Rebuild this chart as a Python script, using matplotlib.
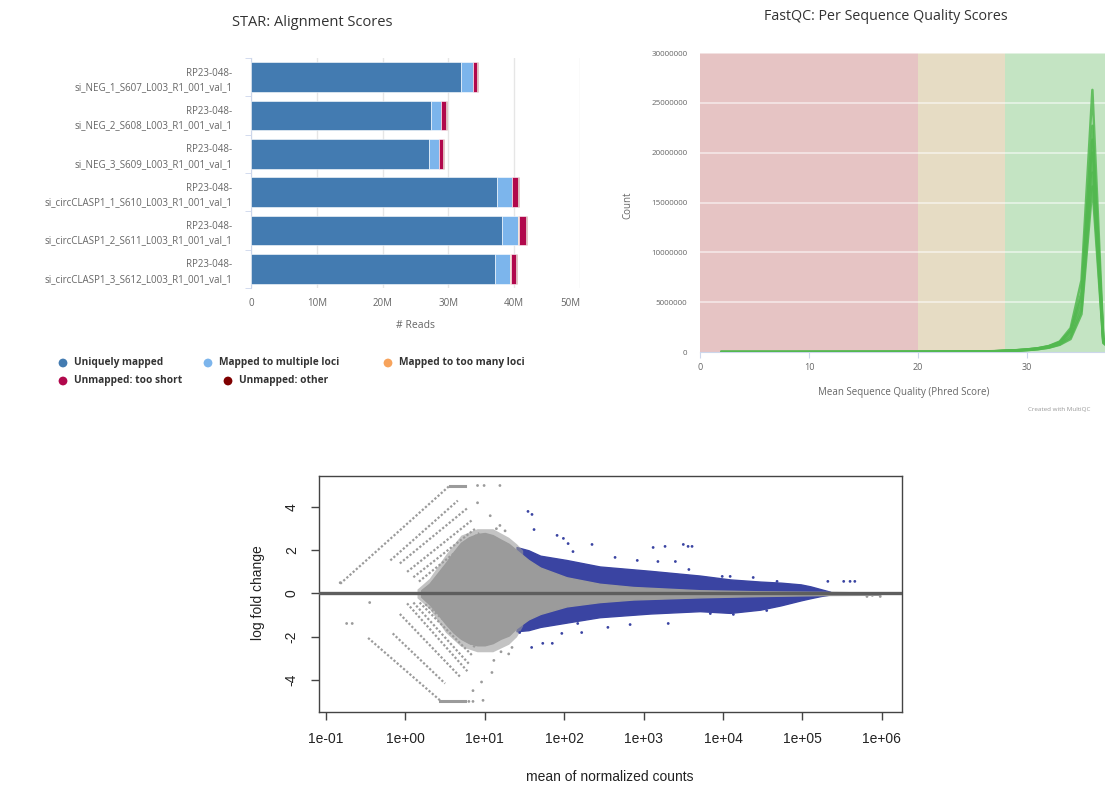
import matplotlib
matplotlib.use("Agg")
import matplotlib.pyplot as plt

plt.rcParams['axes.unicode_minus'] = False

W, H = 1105, 787
HC_FONT = "Open Sans"
R_FONT = "Liberation Sans"

# ---------------- STAR alignment scores (millions of reads) ----------------
star_samples = [
    "RP23-048-\nsi_NEG_1_S607_L003_R1_001_val_1",
    "RP23-048-\nsi_NEG_2_S608_L003_R1_001_val_1",
    "RP23-048-\nsi_NEG_3_S609_L003_R1_001_val_1",
    "RP23-048-\nsi_circCLASP1_1_S610_L003_R1_001_val_1",
    "RP23-048-\nsi_circCLASP1_2_S611_L003_R1_001_val_1",
    "RP23-048-\nsi_circCLASP1_3_S612_L003_R1_001_val_1",
]
star_categories = ["Uniquely mapped", "Mapped to multiple loci",
                   "Mapped to too many loci", "Unmapped: too short",
                   "Unmapped: other"]
uniquely_mapped = [31.9, 27.3, 27.0, 37.4, 38.2, 37.1]
multi_mapped = [1.8, 1.6, 1.6, 2.2, 2.4, 2.3]
too_many_loci = [0.05, 0.04, 0.04, 0.06, 0.06, 0.06]
unmapped_short = [0.6, 0.75, 0.55, 0.85, 1.1, 0.8]
unmapped_other = [0.15, 0.12, 0.12, 0.18, 0.2, 0.17]
star_colors = ["#437bb1", "#7cb5ec", "#f7a35c", "#b1084c", "#7f0000"]
star_xticks = [0, 10, 20, 30, 40, 50]
star_xticklabels = ["0", "10M", "20M", "30M", "40M", "50M"]

# ---------------- FastQC per-sequence quality ----------------
fastqc_quality = list(range(2, 39))
fastqc_neg1 = [240, 650, 1200, 1650, 2100, 2500, 2900, 3300, 3900,
               4500, 5000, 5800, 6600, 7500, 8400, 10000, 11800, 13600, 16000,
               19500, 24000, 29000, 36000, 44000, 55000, 69000,
               110000, 150000, 220000, 320000, 500000, 850000, 1750000,
               4800000, 20000000, 1100000, 0]
fastqc_neg2 = [210, 560, 1050, 1450, 1800, 2200, 2500, 2900, 3400,
               3900, 4400, 5100, 5800, 6600, 7400, 8800, 10400, 12000, 14200,
               17200, 21000, 25500, 31500, 39000, 48000, 61000,
               97000, 133000, 195000, 285000, 445000, 760000, 1500000,
               4200000, 18000000, 950000, 0]
fastqc_neg3 = [200, 540, 1000, 1400, 1750, 2100, 2400, 2800, 3300,
               3800, 4300, 5000, 5700, 6500, 7200, 8600, 10100, 11700, 13800,
               16800, 20500, 25000, 31000, 38000, 47000, 59000,
               95000, 130000, 190000, 278000, 430000, 720000, 1300000,
               3800000, 16600000, 900000, 0]
fastqc_circ1 = [280, 750, 1400, 1900, 2400, 2900, 3300, 3800, 4500,
                5200, 5800, 6700, 7600, 8600, 9600, 11500, 13500, 15500, 18500,
                22000, 27000, 33000, 41000, 50000, 62000, 79000,
                125000, 172000, 250000, 365000, 570000, 980000, 2150000,
                6000000, 22700000, 1250000, 0]
fastqc_circ2 = [300, 800, 1500, 2000, 2500, 3000, 3500, 4000, 4800,
                5500, 6000, 7000, 8000, 9000, 10000, 12000, 14000, 16000, 19000,
                23000, 28000, 34000, 42000, 52000, 65000, 82000,
                130000, 180000, 260000, 380000, 600000, 1050000, 2400000,
                7200000, 26300000, 1400000, 0]
fastqc_circ3 = [270, 720, 1350, 1850, 2300, 2800, 3200, 3700, 4400,
                5100, 5600, 6500, 7400, 8400, 9400, 11200, 13200, 15200, 18000,
                21500, 26500, 32000, 40000, 49000, 61000, 77000,
                122000, 168000, 245000, 355000, 560000, 950000, 2050000,
                5500000, 21300000, 1200000, 0]
fastqc_yticks = [0, 5000000, 10000000, 15000000, 20000000, 25000000, 30000000]
fastqc_xticks = [0, 10, 20, 30]

# ---------------- DESeq2 MA plot ----------------
# outline of the dense non-significant cloud
cloud_mean = [1.58, 2.0, 2.5, 3.2, 4.0, 5.0, 6.3, 8.0, 10.0, 12.6, 15.8, 20.0,
              25.1, 35.5, 50.0, 107, 280, 740, 5100, 29500, 224000, 955000]
cloud_upper = [0.15, 0.45, 0.9, 1.4, 1.9, 2.35, 2.6, 2.75, 2.8, 2.7, 2.5, 2.3,
               2.0, 1.55, 1.2, 0.75, 0.45, 0.3, 0.15, 0.1, 0.07, 0.04]
cloud_lower = [-0.15, -0.5, -0.9, -1.4, -1.8, -2.1, -2.3, -2.4, -2.4, -2.3,
               -2.1, -1.95, -1.6, -1.2, -0.95, -0.6, -0.4, -0.28, -0.18,
               -0.12, -0.07, -0.06]
# thinner fringe around the cloud
cloud_fringe_mean = [1.4, 2.0, 3.2, 5.0, 8.0, 12.6, 20.0, 25.1, 30.0]
cloud_fringe_upper = [0.2, 0.7, 1.8, 2.7, 3.0, 3.0, 2.6, 2.3, 2.0]
cloud_fringe_lower = [-0.2, -0.7, -1.8, -2.45, -2.7, -2.7, -2.35, -2.0, -1.5]
# outline of the significant (blue) band
sig_mean = [25.1, 35.5, 50.0, 107, 280, 1200, 5100, 12300, 29500, 53700,
            95500, 126000, 170000, 224000]
sig_upper = [2.15, 2.0, 1.75, 1.55, 1.25, 1.05, 0.83, 0.65, 0.55, 0.5, 0.42,
             0.33, 0.2, 0.08]
sig_lower = [-1.75, -1.7, -1.55, -1.35, -1.1, -0.93, -0.82, -0.9, -0.75,
             -0.55, -0.32, -0.22, -0.12, -0.05]
# low-count streaks (one-sided zero counts)
streak_mean_start = [0.151, 0.646, 0.851, 1.05, 1.26, 1.48,
                     0.339, 0.692, 0.851, 1.05, 1.26, 1.51, 1.78]
streak_mean_end = [3.63, 4.57, 6.17, 6.92, 7.59, 8.51,
                   2.73, 3.16, 5.01, 6.03, 6.46, 7.08, 7.59]
streak_lfc_start = [0.45, 1.53, 1.39, 1.0, 0.75, 0.55,
                    -2.06, -1.85, -0.95, -0.46, -0.42, -0.42, -0.5]
streak_lfc_end = [5.0, 4.3, 3.98, 3.4, 3.0, 2.8,
                  -4.95, -4.17, -3.9, -3.6, -3.3, -2.9, -2.5]
# capped rows at +/-5
cap_mean_start = [3.63, 2.73]
cap_mean_end = [5.62, 5.62]
cap_lfc = [5.0, -5.0]
gray_point_mean = [0.182, 0.214, 0.355, 0.151, 8.1, 9.8, 15.5, 6.3, 7.1, 9.5,
                   8.1, 11.7, 15.5, 12.3, 7.1, 9.1, 14.0, 18.0, 20.0, 16.0,
                   22.0, 13.0, 650000, 760000, 955000]
gray_point_lfc = [-1.39, -1.39, -0.42, 0.5, 5.0, 5.0, 5.0, -5.0, -5.0, -4.95,
                  4.2, 3.6, 3.15, -3.66, -4.5, -4.1, 3.0, 2.9, -2.8, -2.7,
                  -2.5, -3.1, -0.14, -0.09, -0.14]
sig_point_mean = [35.0, 39.3, 41.7, 81.3, 97.7, 112, 224, 1318, 1862, 3162,
                  3631, 4074, 129, 437, 832, 1514, 2512, 3715,
                  148, 166, 355, 676, 2042, 38.9, 53.7, 70.8, 93.3, 27.5,
                  209000, 331000, 398000, 457000, 24000, 9770, 12300, 47900,
                  13500, 6920, 35500]
sig_point_lfc = [3.8, 3.66, 2.96, 2.69, 2.55, 2.31, 2.27, 2.13, 2.18, 2.27,
                 2.18, 2.18, 1.94, 1.67, 1.53, 1.48, 1.48, 1.11,
                 -1.39, -1.81, -1.57, -1.44, -1.39, -2.5, -2.31, -2.31, -1.85,
                 -1.81, 0.56, 0.56, 0.56, 0.56, 0.74, 0.79, 0.79, 0.56,
                 -0.97, -0.93, -0.79]
ma_xticks = [1e-1, 1e0, 1e1, 1e2, 1e3, 1e4, 1e5, 1e6]
ma_xticklabels = ["1e-01", "1e+00", "1e+01", "1e+02", "1e+03", "1e+04",
                  "1e+05", "1e+06"]
ma_yticks = [-4, -2, 0, 2, 4]

fig = plt.figure(figsize=(W / 100, H / 100), dpi=100)


def px_axes(left, top, right, bottom, **kw):
    return fig.add_axes([left / W, 1 - bottom / H, (right - left) / W,
                         (bottom - top) / H], **kw)


def fx(px):
    return px / W


def fy(py):
    return 1 - py / H


# ======================= STAR stacked bars =======================
ax1 = px_axes(251, 58, 580, 288)
ypos = list(range(len(star_samples)))
left = [0.0] * len(star_samples)
for vals, col in zip([uniquely_mapped, multi_mapped, too_many_loci,
                      unmapped_short, unmapped_other], star_colors):
    ax1.barh(ypos, vals, left=left, height=0.78, color=col,
             edgecolor="white", linewidth=0.4, zorder=3)
    left = [a + b for a, b in zip(left, vals)]
ax1.set_xlim(0, 50)
ax1.set_ylim(len(star_samples) - 0.5, -0.5)
ax1.set_yticks(ypos)
ax1.set_yticklabels(star_samples, fontsize=7, color="#666666",
                    family=HC_FONT, linespacing=1.45)
ax1.set_yticks([i - 0.5 for i in range(len(star_samples) + 1)], minor=True)
ax1.tick_params(axis="y", which="major", length=0, pad=13.5)
ax1.tick_params(axis="y", which="minor", length=4.5, color="#ccd6eb")
ax1.set_xticks(star_xticks)
ax1.set_xticklabels(star_xticklabels, fontsize=7, color="#666666",
                    family=HC_FONT)
ax1.get_xticklabels()[-1].set_ha("right")
ax1.tick_params(axis="x", length=0, pad=7)
ax1.grid(axis="x", color="#e6e6e6", linewidth=1)
ax1.set_axisbelow(True)
for s in ["top", "right", "bottom"]:
    ax1.spines[s].set_visible(False)
ax1.spines["left"].set_color("#ccd6eb")
fig.text(fx(312), fy(22), "STAR: Alignment Scores", ha="center", va="center",
         fontsize=10.5, color="#333333", family=HC_FONT)
fig.text(fx(415), fy(326), "# Reads", ha="center", va="center", fontsize=7.5,
         color="#666666", family=HC_FONT)

# legend laid out like the Highcharts legend rows
ov = fig.add_axes([0, 0, 1, 1], zorder=5)
ov.set_xlim(0, W)
ov.set_ylim(H, 0)
ov.axis("off")
ov.patch.set_alpha(0)
legend_slots = [(63, 363), (208, 363), (388, 363), (63, 381), (228, 381)]
for (lx, ly), name, col in zip(legend_slots, star_categories, star_colors):
    ov.scatter([lx], [ly], s=40, color=col, edgecolors="none")
    ov.text(lx + 11, ly, name, ha="left", va="center", fontsize=7.3,
            fontweight="bold", color="#333333", family=HC_FONT)

# ======================= FastQC quality scores =======================
ax2 = px_axes(700, 53, 1136, 352)
ax2.axvspan(0, 20, color="#e6c4c4", lw=0, zorder=0)
ax2.axvspan(20, 28, color="#e6dcc4", lw=0, zorder=0)
ax2.axvspan(28, 40, color="#c4e4c3", lw=0, zorder=0)
for yt in fastqc_yticks[1:]:
    ax2.axhline(yt, color="white", lw=1.2, alpha=0.6, zorder=1)
for series in [fastqc_neg1, fastqc_neg2, fastqc_neg3,
               fastqc_circ1, fastqc_circ2, fastqc_circ3]:
    ax2.plot(fastqc_quality, series, color="#52b84f", lw=1.8, alpha=0.85,
             zorder=3, solid_joinstyle="round")
ax2.set_xlim(0, 40)
ax2.set_ylim(0, 30000000)
ax2.set_yticks(fastqc_yticks)
ax2.set_yticklabels([str(v) for v in fastqc_yticks], fontsize=5.8,
                    color="#666666", family=HC_FONT)
ax2.tick_params(axis="y", length=0, pad=9)
ax2.set_xticks(fastqc_xticks)
ax2.set_xticklabels([str(v) for v in fastqc_xticks], fontsize=6.5,
                    color="#666666", family=HC_FONT)
ax2.tick_params(axis="x", length=4, color="#ccd6eb", pad=4)
for s in ["top", "right", "left"]:
    ax2.spines[s].set_visible(False)
ax2.spines["bottom"].set_color("#ccd6eb")
fig.text(fx(886), fy(17), "FastQC: Per Sequence Quality Scores", ha="center",
         va="center", fontsize=10.3, color="#333333", family=HC_FONT)
fig.text(fx(628), fy(205), "Count", ha="center", va="center", rotation=90,
         fontsize=7, color="#666666", family=HC_FONT)
fig.text(fx(904), fy(393), "Mean Sequence Quality (Phred Score)", ha="center",
         va="center", fontsize=7, color="#666666", family=HC_FONT)
fig.text(fx(1028), fy(410), "Created with MultiQC", ha="left", va="center",
         fontsize=4.5, color="#999999", family=HC_FONT)

# ======================= MA plot =======================
ax3 = px_axes(319, 476, 902, 712)
ax3.set_xscale("log")
blue = "#3a44a2"
gray = "#9b9b9b"
ax3.fill_between(sig_mean, sig_lower, sig_upper, color=blue, lw=1.0,
                 edgecolor=blue, zorder=2)
ax3.fill_between(cloud_fringe_mean, cloud_fringe_lower, cloud_fringe_upper,
                 color=gray, alpha=0.6, lw=0, zorder=3)
ax3.fill_between(cloud_mean, cloud_lower, cloud_upper, color=gray, lw=1.0,
                 edgecolor=gray, zorder=3)
for x0, x1, y0, y1 in zip(streak_mean_start, streak_mean_end,
                          streak_lfc_start, streak_lfc_end):
    ax3.plot([x0, x1], [y0, y1], color=gray, lw=1.6,
             linestyle=(0, (1.0, 0.9)), zorder=3)
for x0, x1, yy in zip(cap_mean_start, cap_mean_end, cap_lfc):
    ax3.plot([x0, x1], [yy, yy], color=gray, lw=2.2, zorder=3)
ax3.scatter(gray_point_mean, gray_point_lfc, s=4, color=gray,
            edgecolors="none", zorder=3)
ax3.scatter(sig_point_mean, sig_point_lfc, s=4, color=blue,
            edgecolors="none", zorder=4)
ax3.axhline(0, color="#5e5e5e", lw=2.4, zorder=5)
ax3.set_xlim(10 ** -1.088, 10 ** 6.254)
ax3.set_ylim(-5.49, 5.44)
ax3.set_xticks(ma_xticks)
ax3.set_xticklabels(ma_xticklabels)
ax3.minorticks_off()
ax3.set_yticks(ma_yticks)
ax3.set_yticklabels([str(v) for v in ma_yticks], rotation=90, va="center")
ax3.tick_params(length=5.5, width=1, color="#444444", labelsize=10,
                labelcolor="#222222", pad=9)
for lab in ax3.get_xticklabels() + ax3.get_yticklabels():
    lab.set_family(R_FONT)
for s in ax3.spines.values():
    s.set_color("#444444")
    s.set_linewidth(1)
fig.text(fx(258), fy(593), "log fold change", ha="center", va="center",
         rotation=90, fontsize=10, color="#222222", family=R_FONT)
fig.text(fx(610), fy(777), "mean of normalized counts", ha="center",
         va="center", fontsize=10, color="#222222", family=R_FONT)

fig.savefig("out.png", dpi=100)
